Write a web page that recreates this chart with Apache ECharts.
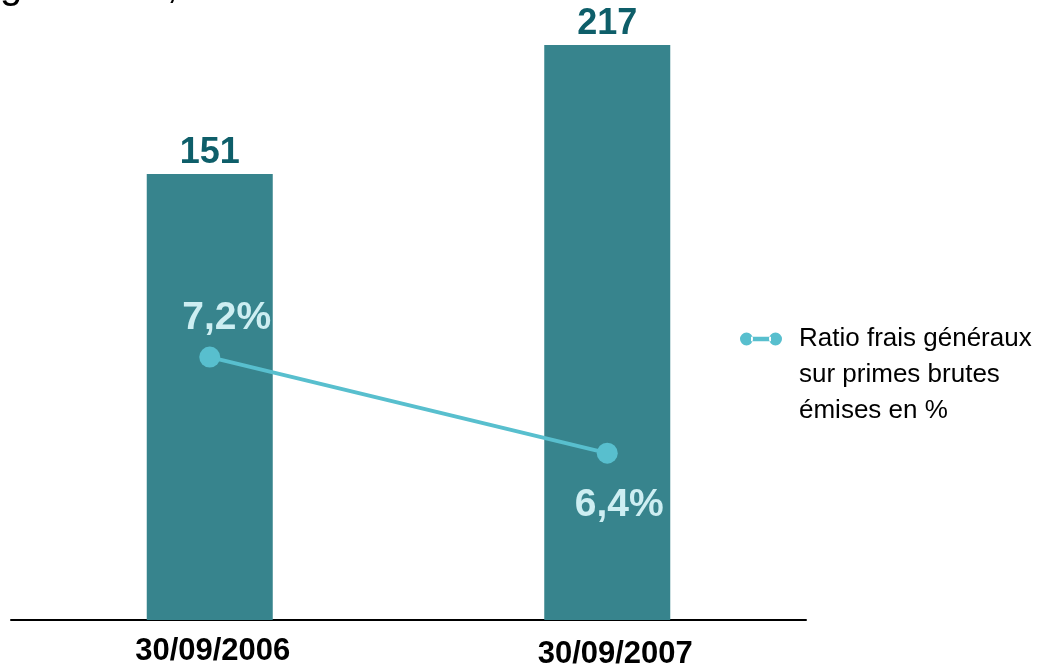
<!DOCTYPE html>
<html>
<head>
<meta charset="utf-8">
<script src="https://cdn.jsdelivr.net/npm/echarts@6/dist/echarts.min.js"></script>
<style>
html,body{margin:0;padding:0;background:#fff;}
#chart{width:1041px;height:670px;}
</style>
</head>
<body>
<div id="chart"></div>
<script>
const categories = ['30/09/2006', '30/09/2007'];
const amounts = [151, 217];
const ratios = [7.2, 6.4];
const ratioLabels = ['7,2%', '6,4%'];
const seriesNames = ['Montant', 'Ratio frais généraux\nsur primes brutes\némises en %'];
const titleFragment = 'généraux,';

const FONT = 'Liberation Sans, Arial, Helvetica, sans-serif';
const chart = echarts.init(document.getElementById('chart'));

chart.setOption({
  animation: false,
  backgroundColor: '#ffffff',
  graphic: [{
    type: 'text',
    x: 0,
    y: -13,
    style: {
      text: titleFragment,
      font: '40px ' + FONT,
      fill: '#000000',
      verticalAlign: 'middle'
    }
  }],
  legend: {
    data: [seriesNames[1]],
    orient: 'vertical',
    left: 735,
    top: 244,
    itemWidth: 42,
    itemHeight: 13,
    icon: 'path://M0,6.5a6.5,6.5 0 1,1 13,0a6.5,6.5 0 1,1 -13,0Z M11,4.3 V8.7 H31 V4.3 Z M29,6.5a6.5,6.5 0 1,1 13,0a6.5,6.5 0 1,1 -13,0Z',
    itemStyle: { color: '#58BFCE', borderWidth: 0 },
    formatter: name => '\n\n' + name,
    textStyle: {
      fontFamily: FONT,
      fontSize: 26,
      lineHeight: 36,
      color: '#000000',
      padding: [0, 0, 0, 12]
    }
  },
  grid: { left: 11, right: 235, top: 45, bottom: 50 },
  xAxis: {
    type: 'category',
    data: categories,
    axisLine: { onZero: false, lineStyle: { color: '#000000', width: 2 } },
    axisTick: { show: false },
    axisLabel: {
      margin: 16,
      formatter: (v, i) => (i === 0 ? '{a|' + v + '}' : '{b|' + v + '}'),
      rich: {
        a: { fontFamily: FONT, fontSize: 31, fontWeight: 'bold', color: '#000000', padding: [0, 0, 0, 6] },
        b: { fontFamily: FONT, fontSize: 31, fontWeight: 'bold', color: '#000000', padding: [3, 0, 0, 16] }
      }
    }
  },
  yAxis: [
    { type: 'value', min: -77, max: 217, startValue: -77, show: false },
    { type: 'value', min: 5.01, max: 9.8, show: false }
  ],
  series: [
    {
      name: seriesNames[0],
      type: 'bar',
      data: amounts,
      barWidth: 126,
      itemStyle: { color: '#37848D' },
      label: {
        show: true,
        position: 'top',
        distance: 3,
        fontFamily: FONT,
        fontSize: 36,
        fontWeight: 'bold',
        color: '#0E5E69'
      }
    },
    {
      name: seriesNames[1],
      type: 'line',
      yAxisIndex: 1,
      data: ratios.map((v, i) => ({
        value: v,
        label: i === 0
          ? { position: 'top', distance: 9, offset: [17, 0] }
          : { position: 'bottom', distance: 22, offset: [12, 0] }
      })),
      symbol: 'circle',
      symbolSize: 21,
      lineStyle: { color: '#58BFCE', width: 4 },
      itemStyle: { color: '#58BFCE' },
      label: {
        show: true,
        formatter: p => ratioLabels[p.dataIndex],
        fontFamily: FONT,
        fontSize: 39,
        fontWeight: 'bold',
        color: '#CDEEF2'
      }
    }
  ]
});
</script>
</body>
</html>
